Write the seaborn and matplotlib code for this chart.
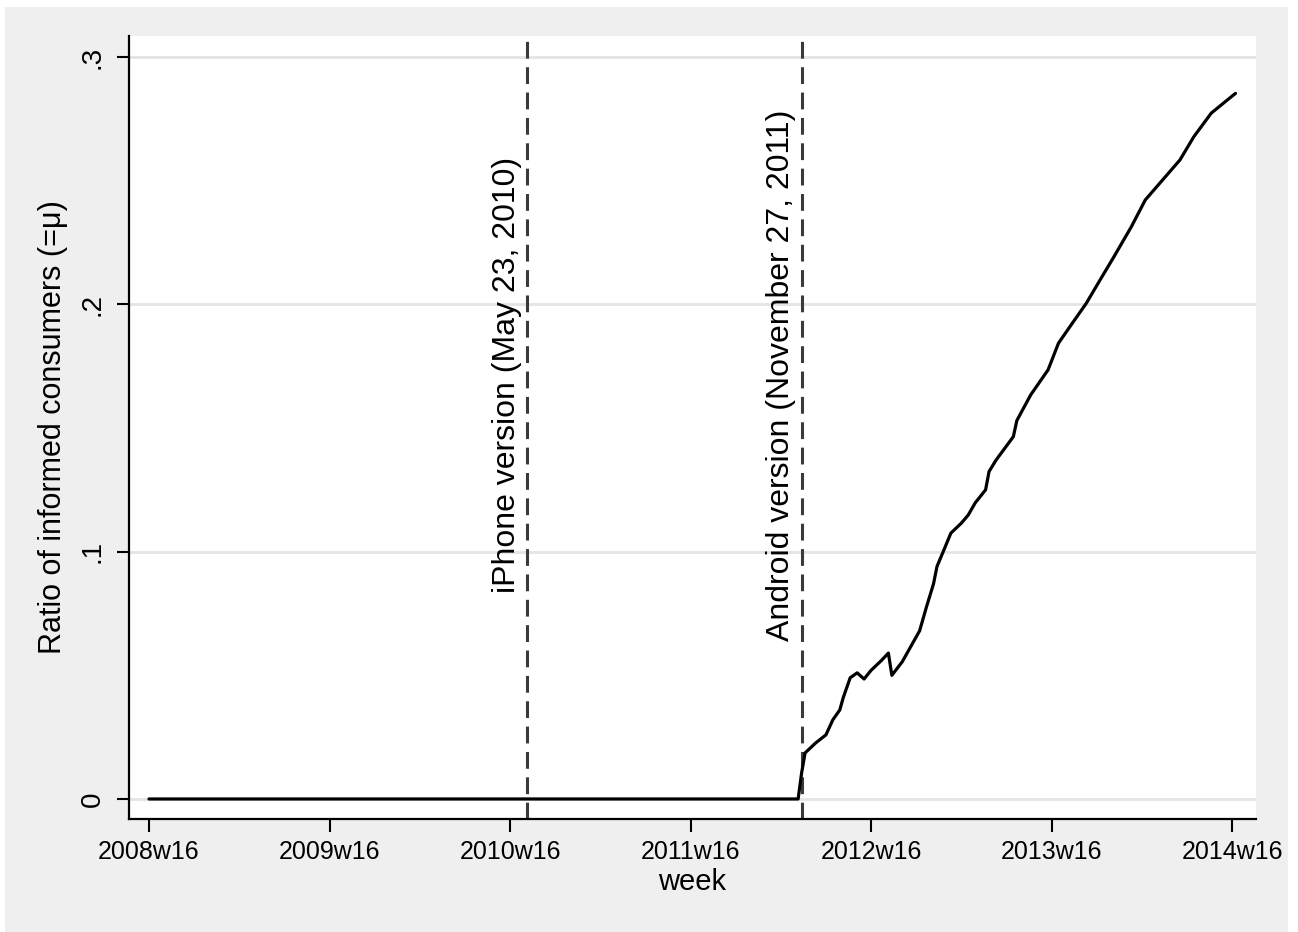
import matplotlib
matplotlib.use("Agg")
import matplotlib.pyplot as plt
from matplotlib.patches import Rectangle
import seaborn as sns
import pandas as pd

# weeks counted from 2008w16, ratio of informed consumers
weeks = [0, 187, 188, 189, 192, 195, 197, 199, 200, 202, 204, 206, 208, 211, 213, 214,
         217, 220, 222, 224, 226, 227, 229, 231, 234, 236, 238, 241, 242, 244, 249, 250,
         254, 259, 262, 266, 270, 274, 278, 283, 287, 292, 297, 301, 306, 310, 313]
mu = [0, 0, 0.0105, 0.0186, 0.0226, 0.0259, 0.032, 0.036, 0.041, 0.049, 0.051, 0.0485,
      0.052, 0.056, 0.059, 0.050, 0.0555, 0.063, 0.068, 0.0778, 0.087, 0.094, 0.1007,
      0.1075, 0.1115, 0.1148, 0.1197, 0.125, 0.1324, 0.137, 0.1465, 0.153, 0.1634,
      0.1735, 0.1843, 0.1924, 0.2004, 0.2099, 0.2193, 0.2314, 0.2422, 0.2503, 0.2584,
      0.2678, 0.2773, 0.2819, 0.2853]

tick_weeks = [0, 52, 104, 156, 208, 260, 312]
tick_labels = ["2008w16", "2009w16", "2010w16", "2011w16", "2012w16", "2013w16", "2014w16"]
y_ticks = [0, 0.1, 0.2, 0.3]
y_tick_labels = ["0", ".1", ".2", ".3"]

# launch dates (weeks from 2008w16)
event_weeks = [109, 188]
event_labels = ["iPhone version (May 23, 2010)", "Android version (November 27, 2011)"]

sns.set_style("white")
plt.rcParams["font.family"] = ["Liberation Sans", "DejaVu Sans"]
plt.rcParams["text.color"] = "black"
plt.rcParams["axes.labelcolor"] = "black"
plt.rcParams["xtick.color"] = "black"
plt.rcParams["ytick.color"] = "black"

df = pd.DataFrame({"week": weeks, "mu": mu})

fig = plt.figure(figsize=(12.98, 9.32), dpi=100, facecolor="white")
fig.patches.append(Rectangle((5 / 1298, 0), 1283 / 1298, 925 / 932,
                             transform=fig.transFigure, facecolor="#efefef",
                             edgecolor="none", zorder=-10))
ax = fig.add_axes([129 / 1298, 113 / 932, 1127 / 1298, 783 / 932])
ax.set_facecolor("white")

for yt in y_ticks:
    ax.axhline(yt, color="#e4e4e4", lw=2, zorder=0)

for wk, lab in zip(event_weeks, event_labels):
    ax.axvline(wk, color="#3a3a3a", lw=2.2, ls=(0, (5.5, 2.8)), zorder=1)
    ax.annotate(lab, xy=(wk, 0.1715), xytext=(-15, 0), textcoords="offset points",
                rotation=90, ha="center", va="center", fontsize=23, color="black")

sns.lineplot(data=df, x="week", y="mu", color="black", lw=2.3, estimator=None, ax=ax, zorder=3)

ax.set_xlim(-5.76, 318.9)
ax.set_ylim(-0.0081, 0.3085)
ax.set_xticks(tick_weeks)
ax.set_xticklabels(tick_labels, fontsize=18)
ax.set_yticks(y_ticks)
ax.set_yticklabels(y_tick_labels, fontsize=20, rotation=90, va="center")

ax.tick_params(axis="both", direction="out", length=9, width=1.5, color="black",
               labelcolor="black", left=True, bottom=True)
ax.tick_params(axis="x", pad=6)
ax.tick_params(axis="y", pad=8)

for side in ["top", "right"]:
    ax.spines[side].set_visible(False)
for side in ["left", "bottom"]:
    ax.spines[side].set_color("black")
    ax.spines[side].set_linewidth(1.6)

ax.set_xlabel("week", fontsize=21, color="black")
ax.set_ylabel("Ratio of informed consumers (=\u03bc)", fontsize=22, color="black")
ax.xaxis.set_label_coords(0.5, -0.0626)
ax.yaxis.set_label_coords(-0.0541, 0.501)

fig.savefig("out.png", dpi=100, facecolor=fig.get_facecolor())
